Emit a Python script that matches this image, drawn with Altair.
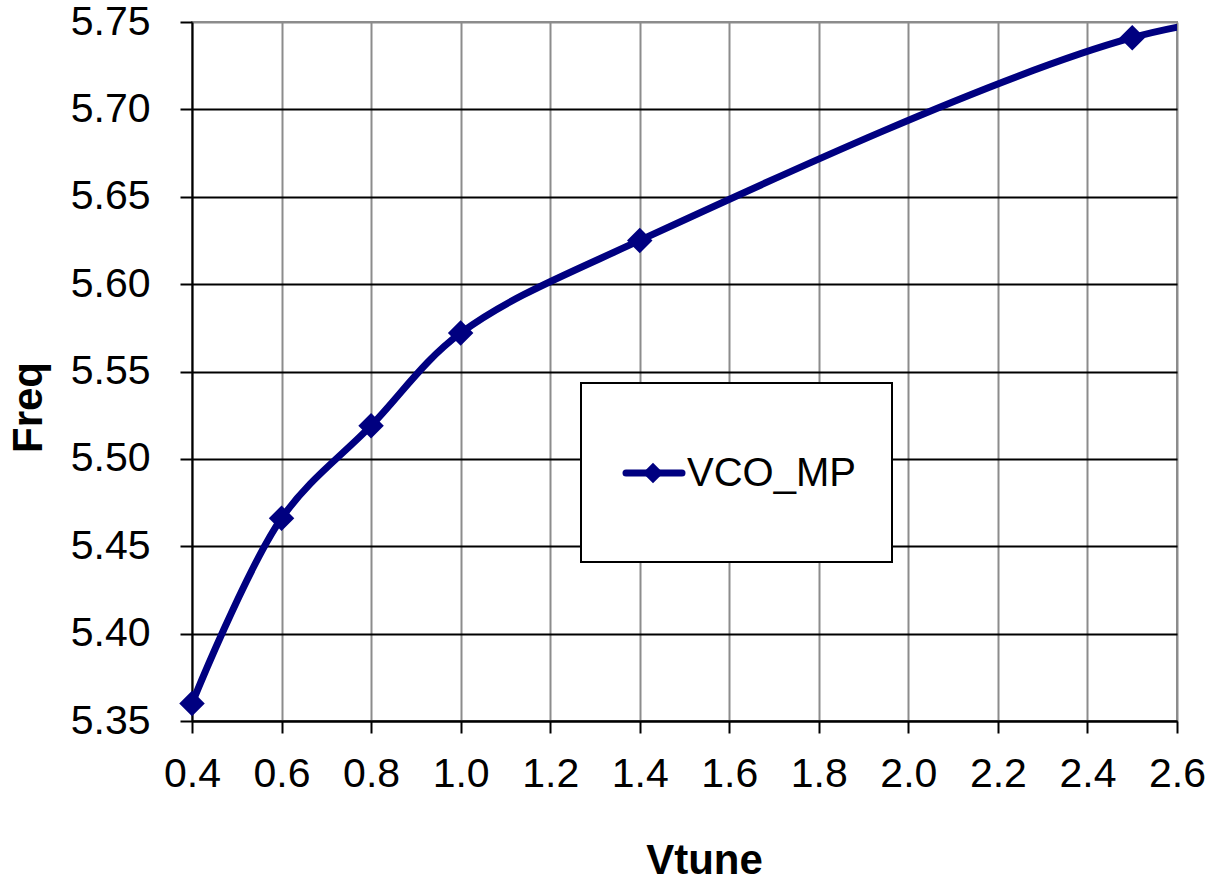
import altair as alt
import pandas as pd

# VCO tuning curve: frequency vs. tuning voltage
series_name = "VCO_MP"
vtune = [0.4, 0.6, 0.8, 1.0, 1.4, 2.5, 3.0]
freq = [5.360, 5.466, 5.519, 5.572, 5.625, 5.741, 5.760]

x_ticks = [0.4, 0.6, 0.8, 1.0, 1.2, 1.4, 1.6, 1.8, 2.0, 2.2, 2.4, 2.6]
y_ticks = [5.35, 5.40, 5.45, 5.50, 5.55, 5.60, 5.65, 5.70, 5.75]

NAVY = "#000080"
FONT = "Liberation Sans"
X_MAX = 2.6

df = pd.DataFrame({"Vtune": vtune, "Freq": freq, "series": series_name})

x_enc = alt.X(
    "Vtune:Q",
    scale=alt.Scale(domain=[0.4, X_MAX], nice=False, zero=False),
    axis=alt.Axis(
        values=x_ticks,
        format=".1f",
        title="Vtune",
        labelFontSize=41,
        labelFont=FONT,
        labelColor="black",
        labelPadding=21,
        labelFlush=False,
        labelOverlap=False,
        labelBound=False,
        tickSize=12,
        tickWidth=2,
        tickColor="black",
        domainColor="black",
        domainWidth=2,
        grid=True,
        gridColor="#8c8c8c",
        gridWidth=2,
        titleFont=FONT,
        titleFontSize=42,
        titleFontWeight="bold",
        titleColor="black",
        titleX=512,
        titleY=139,
        titleBaseline="middle",
    ),
)

y_enc = alt.Y(
    "Freq:Q",
    scale=alt.Scale(domain=[5.35, 5.75], nice=False, zero=False),
    axis=alt.Axis(
        values=y_ticks,
        format=".2f",
        title="Freq",
        labelFontSize=41,
        labelFont=FONT,
        labelColor="black",
        labelPadding=30,
        labelFlush=False,
        labelOverlap=False,
        labelBound=False,
        tickSize=12,
        tickWidth=2,
        tickColor="black",
        domainColor="black",
        domainWidth=2,
        grid=True,
        gridColor={"condition": {"test": "datum.value > 5.74", "value": "#8c8c8c"}, "value": "black"},
        gridWidth=2,
        titleFont=FONT,
        titleFontSize=42,
        titleFontWeight="bold",
        titleColor="black",
        titleX=-164,
        titleY=385,
        titleBaseline="middle",
    ),
)

base = alt.Chart(df)

# smoothed curve, clipped at the right edge of the axis range
curve = base.mark_line(
    color=NAVY, strokeWidth=7, interpolate="catmull-rom", clip=True
).encode(x=x_enc, y=y_enc)

# diamond markers for the points inside the axis range
markers = base.transform_filter(
    alt.datum.Vtune <= X_MAX
).mark_point(
    shape="diamond", filled=True, color=NAVY, size=650, opacity=1
).encode(x=alt.X("Vtune:Q"), y=alt.Y("Freq:Q"))

# Legend drawn as a framed box inside the plot area
legend_data = alt.Data(values=[{"name": series_name}])

legend_box = alt.Chart(legend_data).mark_rect(
    fill="white", stroke="black", strokeWidth=2
).encode(
    x=alt.value(389), x2=alt.value(700), y=alt.value(361), y2=alt.value(540)
)

legend_line = alt.Chart(legend_data).mark_rule(
    color=NAVY, strokeWidth=7, strokeCap="round"
).encode(
    x=alt.value(434), x2=alt.value(490), y=alt.value(451)
)

legend_marker = alt.Chart(legend_data).mark_point(
    shape="diamond", filled=True, color=NAVY, size=420, opacity=1
).encode(
    x=alt.value(461), y=alt.value(451)
)

legend_text = alt.Chart(legend_data).mark_text(
    align="left", baseline="middle", fontSize=40, font=FONT, color="black"
).encode(
    x=alt.value(495), y=alt.value(452), text="name:N"
)

chart = (
    alt.layer(curve, markers, legend_box, legend_line, legend_marker, legend_text)
    .properties(
        width=985,
        height=699,
        padding={"left": 192, "top": 22, "right": 35, "bottom": 160},
        autosize=alt.AutoSizeParams(type="none"),
        background="white",
    )
    .configure_view(stroke="#8c8c8c", strokeWidth=2)
)

chart.save("out.html", embed_options={"renderer": "svg", "actions": False})
